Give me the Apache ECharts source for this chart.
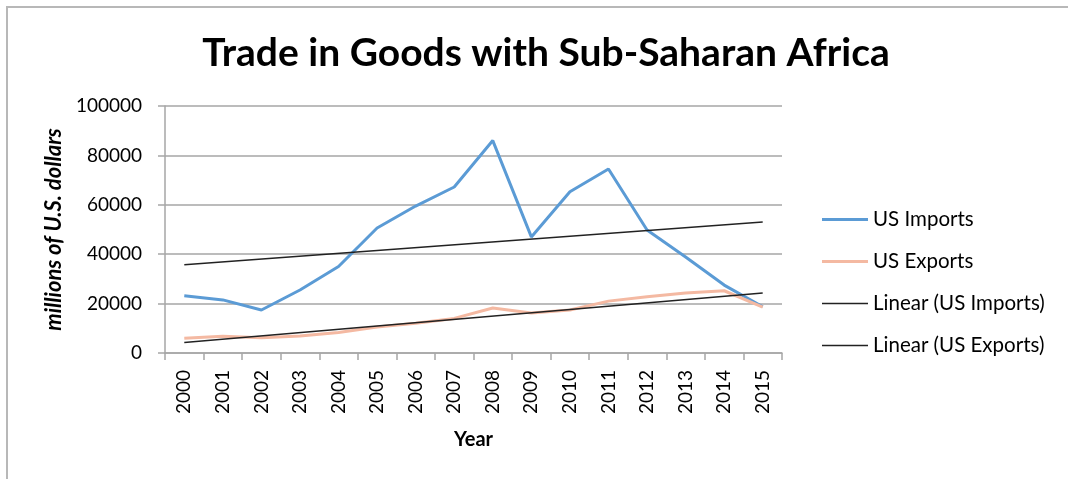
<!DOCTYPE html>
<html>
<head>
<meta charset="utf-8">
<script src="https://cdn.jsdelivr.net/npm/echarts@6/dist/echarts.min.js"></script>
<style>
html,body{margin:0;padding:0;background:#fff;}
#c{width:1068px;height:479px;}
</style>
</head>
<body>
<div id="c"></div>
<script>
var years = ['2000','2001','2002','2003','2004','2005','2006','2007','2008','2009','2010','2011','2012','2013','2014','2015'];
var usImports = [23200,21500,17400,25500,35000,50600,59500,67200,86000,47000,65300,74500,49800,38900,27500,18700];
var usExports = [6000,6800,6200,6900,8300,10500,12000,14000,18200,16200,17400,21000,22800,24300,25200,18600];
var trendImports = [['2000',35700],['2015',53000]];
var trendExports = [['2000',4300],['2015',24300]];
var yTicks = [0,20000,40000,60000,80000,100000];

var chart = echarts.init(document.getElementById('c'));
var font = 'Lato';
chart.setOption({
  animation:false,
  backgroundColor:'#fff',
  graphic:[{type:'polyline',shape:{points:[[7,479],[7,7],[1068,7]]},style:{stroke:'#b8b8b8',lineWidth:2,fill:null}}],
  title:{text:'Trade in Goods with Sub-Saharan Africa',left:541,textAlign:'center',top:29,
    textStyle:{fontFamily:font,fontWeight:'bold',fontSize:39,color:'#000'}},
  legend:{orient:'vertical',left:817,top:204,itemWidth:46,itemHeight:14,itemGap:21,
    textStyle:{fontFamily:font,fontSize:20.5,color:'#000'},
    data:[{name:'US Imports',icon:'path://M0,0H46V3H0Z'},
          {name:'US Exports',icon:'path://M0,0H46V3H0Z'},
          {name:'Linear (US Imports)',icon:'path://M0,0H46V1.6H0Z'},
          {name:'Linear (US Exports)',icon:'path://M0,0H46V1.6H0Z'}]},
  grid:{left:165,right:286,top:106,bottom:126},
  xAxis:{type:'category',data:years,boundaryGap:true,name:'Year',nameLocation:'middle',nameGap:77,
    nameTextStyle:{fontFamily:font,fontWeight:'bold',fontSize:20,color:'#000'},
    axisLine:{lineStyle:{color:'#a6a6a6',width:1.5}},
    axisTick:{show:true,length:7,alignWithLabel:false,lineStyle:{color:'#a6a6a6',width:1.5}},
    axisLabel:{rotate:90,fontFamily:font,fontSize:19,color:'#000',margin:17,interval:0}},
  yAxis:{type:'value',min:0,max:100000,interval:20000,name:'millions of U.S. dollars',nameLocation:'middle',nameGap:96,
    nameTextStyle:{fontFamily:font,fontWeight:'bold',fontStyle:'italic',fontSize:22,color:'#000'},
    axisLine:{show:true,lineStyle:{color:'#a6a6a6',width:1.5}},
    axisTick:{show:true,length:7,lineStyle:{color:'#a6a6a6',width:1.5}},
    axisLabel:{fontFamily:font,fontSize:19,color:'#000',margin:23,
      formatter:function(v){return yTicks.indexOf(v)>=0?String(v):'';}},
    splitLine:{lineStyle:{color:'#a6a6a6',width:1.5}}},
  series:[
    {name:'US Imports',type:'line',data:usImports,symbol:'none',itemStyle:{color:'#5b9bd5'},lineStyle:{color:'#5b9bd5',width:3}},
    {name:'US Exports',type:'line',data:usExports,symbol:'none',itemStyle:{color:'#f4b9a2'},lineStyle:{color:'#f4b9a2',width:3}},
    {name:'Linear (US Imports)',type:'line',data:trendImports,symbol:'none',itemStyle:{color:'#222'},lineStyle:{color:'#222',width:1.5}},
    {name:'Linear (US Exports)',type:'line',data:trendExports,symbol:'none',itemStyle:{color:'#222'},lineStyle:{color:'#222',width:1.5}}
  ]
});
</script>
</body>
</html>
